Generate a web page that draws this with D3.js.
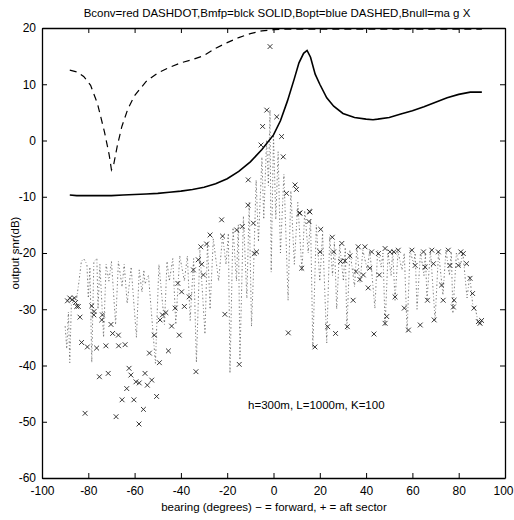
<!DOCTYPE html>
<html>
<head>
<meta charset="utf-8">
<script src="https://cdn.jsdelivr.net/npm/d3@7"></script>
<style>
    body { margin: 0; background: #fff; }
    text { font-family: "Liberation Sans", Arial, Helvetica, sans-serif; fill: #000; }
</style>
</head>
<body>
<div id="chart"></div>
<script>
// tick values
const xTicks = [-100, -80, -60, -40, -20, 0, 20, 40, 60, 80, 100];
const yTicks = [-60, -50, -40, -30, -20, -10, 0, 10, 20];

// Bmfp (solid)
const mfpBearing = [-88, -85, -80, -75, -70, -65, -60, -55, -50, -45, -40, -35, -30, -25, -20, -15, -10, -5, 0, 3, 6, 9, 11, 13, 14.5, 16, 18, 20, 23, 26, 30, 35, 40, 43, 45, 50, 55, 60, 65, 70, 75, 80, 85, 90];
const mfpSnr = [-9.7, -9.8, -9.8, -9.8, -9.8, -9.7, -9.6, -9.5, -9.4, -9.2, -9, -8.7, -8.3, -7.7, -6.8, -5.5, -3.8, -1.6, 1, 3.5, 7, 11, 13.8, 15.5, 16, 14.8, 11.8, 10, 7.6, 6.1, 4.8, 4.1, 3.8, 3.7, 3.8, 4.1, 4.7, 5.3, 6, 6.8, 7.6, 8.2, 8.6, 8.6];

// Bopt (dashed)
const optBearing = [-88, -85, -82, -79, -76, -73, -71, -70, -69, -67.5, -65.5, -63, -60, -55, -50, -45, -40, -35, -30, -25, -20, -15, -10, -5, 0, 5, 20, 40, 60, 80, 90];
const optSnr = [12.5, 12.2, 11.4, 9.8, 6.5, 1.5, -2.5, -5.2, -4.2, -1, 2.5, 5.5, 8, 10.5, 12, 13, 13.8, 14.4, 15.1, 16.4, 17.4, 18.3, 19, 19.5, 19.7, 19.8, 19.8, 19.8, 19.8, 19.8, 19.8];

// Bconv (dash-dot)
const convBearing = [-90, -89.3, -88.6, -88, -87.3, -86, -85, -84, -83, -82, -80.6, -80, -79.3, -78.5, -77.6, -76.3, -75.8, -75, -73.4, -72.3, -71.1, -70, -68.2, -67, -65.4, -64.5, -63.2, -61.5, -59.2, -58, -56.8, -56, -55.5, -54, -51, -49.5, -47.1, -46, -45, -43.5, -42.2, -40.5, -38.5, -37.2, -36, -34.5, -33.3, -31.8, -29.6, -28.5, -27.4, -26, -23.7, -22, -20.5, -19.5, -18.8, -17.5, -16, -15.2, -14.5, -13, -11.5, -10.5, -9.5, -8.7, -7.5, -6.5, -5, -4.2, -3, -2.2, -1.5, -1, 0, 1, 2, 3, 4.5, 6.3, 7.5, 9, 10.5, 12.3, 13.5, 15, 16, 17, 18.5, 20, 21.2, 23, 24.3, 25.5, 26.3, 27.3, 28.6, 30.2, 31, 31.7, 33, 35, 36, 37.4, 38.6, 40.5, 41.6, 43.8, 45, 46.5, 47.3, 48.2, 49.5, 50.8, 51.5, 52.5, 53.8, 55.5, 56.5, 57.7, 59, 60.5, 61.2, 62, 63.5, 65, 65.6, 66.3, 67.8, 69.8, 71.3, 73.2, 74.5, 76, 76.8, 77.5, 79, 80.6, 81.8, 83.6, 84.8, 86, 87.5, 88.5, 89.5, 90];
const convSnr = [-33, -37, -30.5, -39.5, -29, -28.5, -28, -25, -21.5, -21, -22, -28, -22.5, -39.5, -21.5, -21, -30, -22, -35, -22, -25, -21.5, -32.7, -21.5, -26, -22, -29, -22.5, -35, -23, -27, -23, -25.5, -24, -39.6, -22, -32.7, -21.5, -25, -21, -32.7, -20.5, -25, -20.5, -32, -21, -39.5, -19.5, -34.4, -18, -30, -17.5, -25, -17, -22, -16.5, -41.4, -15.5, -25, -15, -39, -13.5, -28, -11, -33, -24.2, -7, -18, -3, -14, 0, -8, 5.5, -23.4, 1, -14, -2, -20, -6, -28.4, -9, -22, -11, -23.3, -12.5, -20, -14, -36.9, -15, -25, -16.5, -36, -17, -24, -18, -30, -18.5, -25, -19, -33.7, -19.5, -26, -19, -25.3, -19.5, -23, -19.5, -29.8, -19.5, -22.5, -20, -33, -20, -24, -19.5, -28.4, -19.8, -23, -20, -34, -19.5, -22, -20, -30, -19.8, -24, -20, -28.4, -19.5, -31.9, -19.8, -27.5, -19.5, -24, -19.8, -30.7, -20, -22.5, -20, -28, -24, -29, -30.5, -32.5, -32.5, -33];

// Bnull (x markers)
const nullBearing = [-89, -88, -87, -86, -85.5, -85, -84.3, -83.6, -82.9, -81.4, -80.4, -78.5, -77.5, -77.6, -76.4, -75.2, -74.2, -73.9, -72.4, -71.4, -70.2, -69.5, -68, -67, -66.9, -65.4, -64.1, -63.4, -62.4, -61.6, -60.3, -59.4, -58.1, -58, -56.2, -55.5, -54.5, -53.6, -52.6, -51.5, -50.5, -49.3, -49, -48, -46.5, -45.4, -44, -42.5, -41.3, -40.7, -39.7, -38.5, -36.4, -34.6, -33.5, -32.5, -31.4, -31, -30.3, -28.9, -27.4, -22.4, -22, -21, -15.9, -14.8, -13.5, -11, -10.9, -8.7, -8.3, -7.3, -5.4, -4.7, -2.9, -1.5, 1.4, 3.5, 4.2, 5.6, 6.4, 9.3, 9.9, 11.2, 11.4, 12.2, 15.3, 15.5, 15.7, 17.9, 20.1, 20.4, 23.4, 25.4, 26, 26.8, 29, 29.5, 30.9, 31.9, 33, 34.4, 35.6, 36.6, 37.3, 38.8, 39.5, 40.9, 41.6, 42.4, 43.4, 45.3, 45.7, 48.2, 48.2, 48.9, 50.3, 52, 52.5, 53.9, 56.5, 58.3, 59.8, 61.2, 63.4, 64.8, 65.5, 66.5, 68.4, 69.1, 69.4, 71.2, 72.6, 73.3, 75.5, 76.2, 77.7, 78, 79.8, 80.9, 82, 83.4, 84.9, 86, 86.6, 88.5, 89.2, 89.9];
const nullSnr = [-28.5, -28, -28.3, -28, -28.8, -29.5, -29.5, -31.4, -35.9, -48.5, -36.7, -29.4, -30.4, -31, -36.9, -42, -31.9, -31, -36.5, -41.4, -32.7, -34.3, -49.1, -34.6, -36.5, -46.1, -36.3, -44.1, -40.5, -41.7, -46.1, -42.9, -50.4, -43.1, -47.8, -41.4, -43.5, -37.8, -42.6, -34.6, -45.5, -39.5, -31.9, -31, -30.6, -37.4, -33, -29.8, -25.4, -34.6, -26.9, -29.5, -27.8, -23, -41.1, -21.2, -18.9, -22, -23.9, -18.4, -16.8, -14.1, -17, -30.9, -15.9, -39.8, -15.3, -11.5, -7, -14.7, -20.1, -19.8, -0.8, 2.5, 5.4, 16.7, 4.2, 0.7, -2.9, -9.4, -34.2, -7.9, -8.7, -12.9, -12.9, -22.7, -14.4, -12.6, -12.7, -36.7, -19.8, -15.8, -33.1, -17.2, -19.8, -34.3, -21.5, -18.3, -21.4, -33.1, -20.5, -28.4, -23.3, -18.9, -24.7, -23.9, -18.9, -26.2, -22.7, -19.8, -34.4, -20.1, -23.9, -19.2, -32.5, -31.3, -19.8, -19.8, -27.8, -19.5, -29.8, -33.7, -19.5, -22.2, -32.8, -19.8, -22.5, -28.4, -19.5, -21.9, -31.9, -19.8, -25.7, -28.4, -19.5, -22.2, -29.6, -28.4, -22.2, -19.8, -20.1, -21.9, -24.5, -27.2, -29.8, -32.2, -32.5, -32];

class SnrVis {
    constructor(parentElement) {
        this.parentElement = parentElement;
        this.initVis();
    }

    initVis() {
        let vis = this;

        vis.margin = { top: 28, right: 9, bottom: 42, left: 42 };
        vis.width = 514 - vis.margin.left - vis.margin.right;
        vis.height = 520 - vis.margin.top - vis.margin.bottom;

        vis.root = d3.select("#" + vis.parentElement).append("svg")
            .attr("width", 514)
            .attr("height", 520);

        vis.svg = vis.root.append("g")
            .attr("transform", `translate(${vis.margin.left},${vis.margin.top})`);

        vis.x = d3.scaleLinear().domain([-100, 100]).range([0, vis.width]);
        vis.y = d3.scaleLinear().domain([-60, 20]).range([vis.height, 0]);

        vis.line = d3.line()
            .x(d => vis.x(d[0]))
            .y(d => vis.y(d[1]));

        vis.drawCurves();
        vis.drawAxes();
        vis.drawText();
    }

    drawCurves() {
        let vis = this;

        // dash-dot conventional beamformer, comes out as faint dots in the scan
        vis.svg.append("path")
            .datum(d3.zip(convBearing, convSnr))
            .attr("d", vis.line)
            .attr("fill", "none")
            .attr("stroke", "#444")
            .attr("stroke-width", 0.7)
            .attr("stroke-dasharray", "1.6,2.2,0.8,2.2");

        vis.svg.append("path")
            .datum(d3.zip(optBearing, optSnr))
            .attr("d", vis.line)
            .attr("fill", "none")
            .attr("stroke", "#000")
            .attr("stroke-width", 1.2)
            .attr("stroke-dasharray", "7,5");

        vis.svg.append("path")
            .datum(d3.zip(mfpBearing, mfpSnr))
            .attr("d", vis.line)
            .attr("fill", "none")
            .attr("stroke", "#000")
            .attr("stroke-width", 1.6);

        let s = 2.4;
        vis.svg.selectAll(".null-mark")
            .data(d3.zip(nullBearing, nullSnr))
            .enter().append("path")
            .attr("class", "null-mark")
            .attr("transform", d => `translate(${vis.x(d[0])},${vis.y(d[1])})`)
            .attr("d", `M${-s},${-s}L${s},${s}M${-s},${s}L${s},${-s}`)
            .attr("stroke", "#222")
            .attr("stroke-width", 0.9);
    }

    drawAxes() {
        let vis = this;
        let fmt = d => String(d);

        let axes = [
            { axis: d3.axisBottom(vis.x).tickValues(xTicks).tickFormat(fmt).tickPadding(8), t: `translate(0,${vis.height})` },
            { axis: d3.axisTop(vis.x).tickValues(xTicks).tickFormat(""), t: "translate(0,0)" },
            { axis: d3.axisLeft(vis.y).tickValues(yTicks).tickFormat(fmt).tickPadding(6), t: "translate(0,0)" },
            { axis: d3.axisRight(vis.y).tickValues(yTicks).tickFormat(""), t: `translate(${vis.width},0)` }
        ];

        axes.forEach(a => {
            let g = vis.svg.append("g")
                .attr("transform", a.t)
                .call(a.axis.tickSizeInner(-5).tickSizeOuter(0));
            g.select(".domain").attr("stroke", "#000").attr("stroke-width", 1.3);
            g.selectAll(".tick line").attr("stroke", "#000").attr("stroke-width", 1);
            g.selectAll(".tick text")
                .attr("font-family", "'Liberation Sans', Arial, sans-serif")
                .attr("font-size", 12);
        });

        // last x label sits against the page edge
        vis.svg.selectAll("text")
            .filter(d => d === 100)
            .attr("text-anchor", "end")
            .attr("dx", 8);
    }

    drawText() {
        let vis = this;

        vis.root.append("text")
            .attr("x", 277)
            .attr("y", 17)
            .attr("text-anchor", "middle")
            .attr("font-size", 11.5)
            .text("Bconv=red DASHDOT,Bmfp=blck SOLID,Bopt=blue DASHED,Bnull=ma g X");

        vis.root.append("text")
            .attr("x", 274)
            .attr("y", 511)
            .attr("text-anchor", "middle")
            .attr("font-size", 11.5)
            .text("bearing (degrees) \u2212 = forward, + = aft sector");

        vis.root.append("text")
            .attr("transform", "translate(19,253) rotate(-90)")
            .attr("text-anchor", "middle")
            .attr("font-size", 11.5)
            .text("output snr(dB)");

        vis.svg.append("text")
            .attr("x", vis.x(-11))
            .attr("y", vis.y(-47.7))
            .attr("font-size", 11.5)
            .text("h=300m, L=1000m, K=100");
    }
}

new SnrVis("chart");
</script>
</body>
</html>
